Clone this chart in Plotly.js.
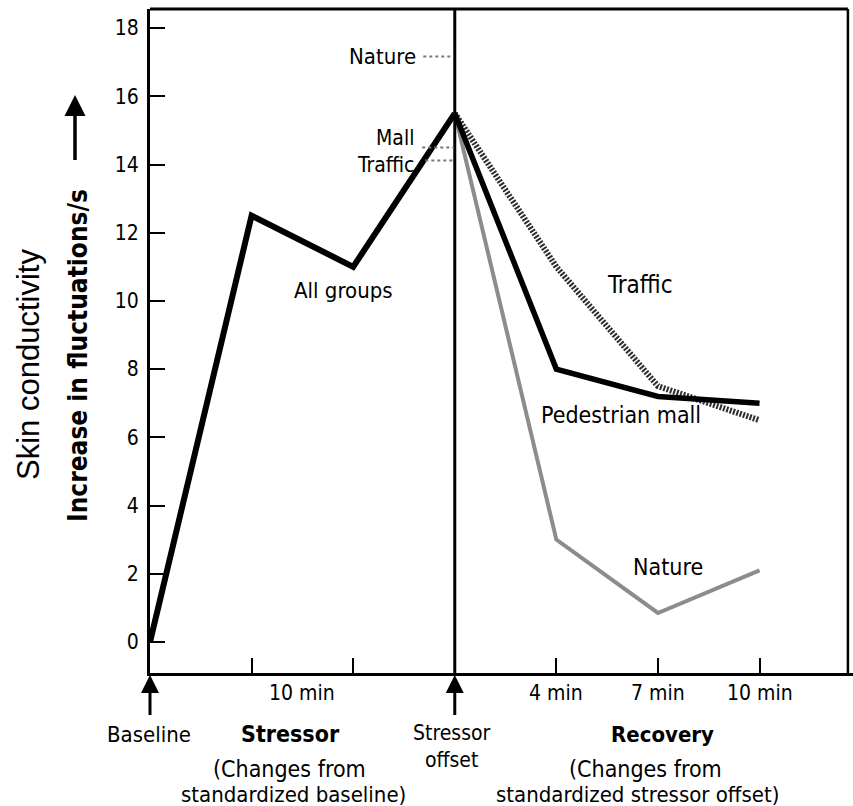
<!DOCTYPE html>
<html>
<head>
<meta charset="utf-8">
<script src="https://cdn.plot.ly/plotly-3.0.1.min.js"></script>
<style>html,body{margin:0;padding:0;background:#fff;}#chart{width:853px;height:806px;}</style>
</head>
<body>
<div id="chart"></div>
<script>
// ---- data ----
const stressorX = [0, 1, 2, 3];
const allGroups = [0, 12.5, 11, 15.5];
const recoveryX = [3, 4, 5, 6];
const pedestrianMall = [15.5, 8, 7.2, 7];
const traffic = [15.5, 11, 7.5, 6.5];
const nature = [15.5, 3, 0.85, 2.1];
const yTicks = [0, 2, 4, 6, 8, 10, 12, 14, 16, 18];
const xTickVals = [1, 2, 4, 5, 6];
const timeLabelX = [1.5, 4, 5, 6];
const timeLabels = ["10 min", "4 min", "7 min", "10 min"];

const F = "DejaVu Sans Condensed, DejaVu Sans, sans-serif";

const traces = [
  {x: recoveryX, y: nature, mode: "lines", line: {color: "#8c8c8c", width: 4}, hoverinfo: "skip"},
  {x: recoveryX, y: traffic, mode: "lines", line: {color: "#2e2e2e", width: 6, dash: "2px,1.5px"}, hoverinfo: "skip"},
  {x: recoveryX, y: pedestrianMall, mode: "lines", line: {color: "#000", width: 5.5}, hoverinfo: "skip"},
  {x: stressorX, y: allGroups, mode: "lines", line: {color: "#000", width: 6}, hoverinfo: "skip"}
];

function txt(x, y, text, size, opts) {
  return Object.assign({x: x, y: y, xref: "x", yref: "y", text: text, showarrow: false,
    font: {family: F, size: size, color: "#000"}, xanchor: "center", yanchor: "middle"}, opts || {});
}
function ptxt(xpx, ypx, text, size, opts) {
  return Object.assign({x: (xpx - 150) / 703, y: (673 - ypx) / 664, xref: "paper", yref: "paper", text: text,
    showarrow: false, font: {family: F, size: size, color: "#000"}, xanchor: "center", yanchor: "middle"}, opts || {});
}

const annotations = [];
timeLabelX.forEach((v, i) => annotations.push(txt(v, -0.91, timeLabels[i], 21, {yanchor: "top", yshift: -6})));
annotations.push(ptxt(149, 734, "Baseline", 22));
annotations.push(ptxt(290, 734, "<b>Stressor</b>", 23));
annotations.push(ptxt(289, 769, "(Changes from", 23));
annotations.push(ptxt(293, 794, "standardized baseline)", 22));
annotations.push(ptxt(452, 746, "Stressor<br>offset", 21));
annotations.push(ptxt(662, 734, "<b>Recovery</b>", 22));
annotations.push(ptxt(645, 769, "(Changes from", 23));
annotations.push(ptxt(637, 794, "standardized stressor offset)", 22));

// arrows under the axis
[0, 3].forEach(v => annotations.push({x: v, y: 0, xref: "x", yref: "paper", text: " ", font: {size: 1},
  showarrow: true, arrowhead: 2, arrowsize: 1.2, arrowwidth: 3, arrowcolor: "#000", ax: 0, ay: 44, standoff: 2}));
// y-axis arrow
annotations.push({x: (75 - 150) / 703, y: (673 - 95) / 664, xref: "paper", yref: "paper", text: " ", font: {size: 1},
  showarrow: true, arrowhead: 2, arrowsize: 1.2, arrowwidth: 3.5, arrowcolor: "#000", ax: 0, ay: 67, standoff: 0});

// y titles
annotations.push(ptxt(78, 356, "<b>Increase in fluctuations/s</b>", 26, {textangle: -90}));
annotations.push(ptxt(28, 365, "Skin conductivity", 31, {textangle: -90, font: {family: "Liberation Sans, Arial, sans-serif", size: 31, color: "#000"}}));

// in-plot labels
annotations.push(txt(1.9, 10.3, "All groups", 22));
annotations.push(txt(4.82, 10.47, "Traffic", 24));
annotations.push(txt(4.64, 6.66, "Pedestrian mall", 23));
annotations.push(txt(5.1, 2.2, "Nature", 23));
annotations.push(txt(2.64, 17.17, "Nature", 22, {xanchor: "right"}));
annotations.push(txt(2.62, 14.38, "Mall<br>Traffic", 21, {xanchor: "right", align: "right"}));

const shapes = [
  {type: "line", xref: "x", yref: "paper", x0: 3, x1: 3, y0: 0, y1: 1, line: {color: "#000", width: 3}},
  {type: "line", xref: "x", yref: "paper", x0: 0, x1: 6.87, y0: 1, y1: 1, line: {color: "#000", width: 3}},
  {type: "line", xref: "x", yref: "paper", x0: 6.87, x1: 6.87, y0: 0, y1: 1, line: {color: "#000", width: 2.5}},
  {type: "line", xref: "x", yref: "y", x0: 2.69, x1: 2.99, y0: 17.17, y1: 17.17, line: {color: "#777", width: 2, dash: "dot"}},
  {type: "line", xref: "x", yref: "y", x0: 2.68, x1: 2.99, y0: 14.5, y1: 14.5, line: {color: "#777", width: 2, dash: "dot"}},
  {type: "line", xref: "x", yref: "y", x0: 2.71, x1: 2.99, y0: 14.12, y1: 14.12, line: {color: "#777", width: 2, dash: "dot"}}
];

const layout = {
  width: 853, height: 806,
  margin: {l: 150, r: 0, t: 9, b: 133},
  paper_bgcolor: "#fff", plot_bgcolor: "#fff",
  showlegend: false,
  xaxis: {range: [0, 6.92], showgrid: false, zeroline: false, showline: true, linecolor: "#000", linewidth: 3,
    ticks: "inside", tickvals: xTickVals, ticklen: 15, tickwidth: 2, tickcolor: "#000", showticklabels: false, fixedrange: true},
  yaxis: {range: [-0.91, 18.56], showgrid: false, zeroline: false, showline: true, linecolor: "#000", linewidth: 3,
    ticks: "inside", tickvals: yTicks, ticklen: 15, tickwidth: 2, tickcolor: "#000",
    tickfont: {family: F, size: 21, color: "#000"}, ticklabelstandoff: 4, fixedrange: true},
  annotations: annotations,
  shapes: shapes
};

Plotly.newPlot("chart", traces, layout, {displayModeBar: false, staticPlot: true});
</script>
</body>
</html>
